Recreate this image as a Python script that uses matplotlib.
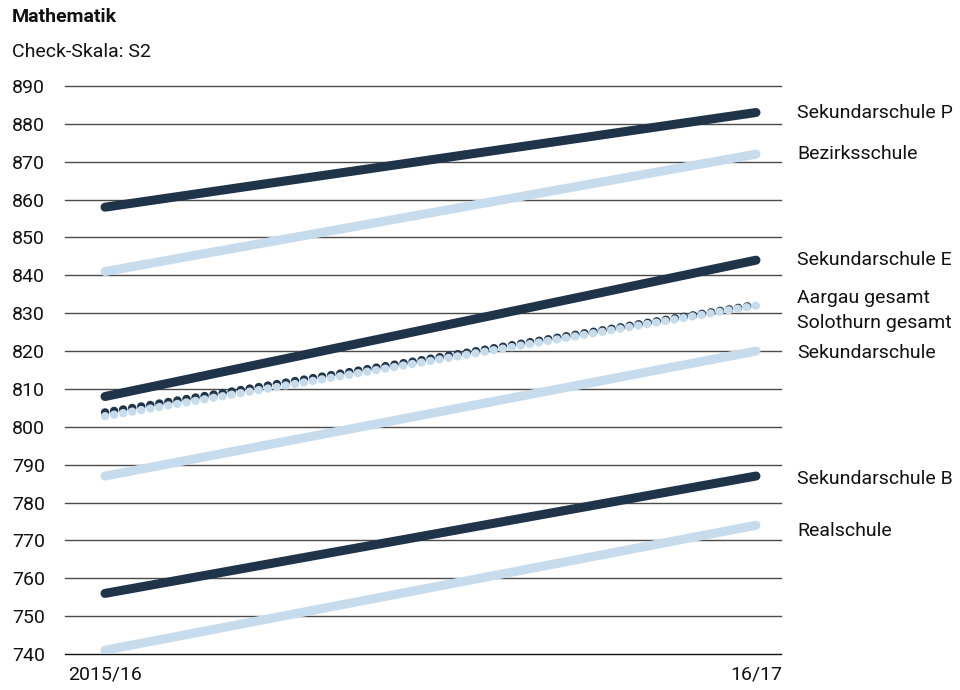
import matplotlib.pyplot as plt

plt.rcParams['font.family'] = ['Roboto', 'DejaVu Sans']

# ── Data ──
years = ["2015/16", "16/17"]
series_names = ["Sekundarschule P", "Bezirksschule", "Sekundarschule E",
                "Aargau gesamt", "Solothurn gesamt", "Sekundarschule",
                "Sekundarschule B", "Realschule"]
start_vals = [858, 841, 808, 803.8, 802.8, 787, 756, 741]
end_vals = [883, 872, 844, 832.2, 832.0, 820, 787, 774]
label_y = [883, 872, 844, 834, 827.5, 819.5, 786.2, 772.5]

DARK = "#1f3349"
LIGHT = "#c6dbeb"
colors = [DARK, LIGHT, DARK, DARK, LIGHT, LIGHT, DARK, LIGHT]
dotted = [False, False, False, True, True, False, False, False]

FS = 14

fig = plt.figure(figsize=(9.6, 6.9), dpi=100)
ax = fig.add_axes([65/960, 36/690, 716/960, 568/690])

x = [0, 1]
for name, s, e, c, d in zip(series_names, start_vals, end_vals, colors, dotted):
    if d:
        ax.plot(x, [s, e], color=c, lw=6.0, dashes=(0.02, 1.08),
                dash_capstyle='round', zorder=4 if c == LIGHT else 3)
    else:
        ax.plot(x, [s, e], color=c, lw=6.5, solid_capstyle='round', zorder=3)

for name, ly in zip(series_names, label_y):
    ax.text(1.0 + 41/651, ly, name, fontsize=FS, va='center', ha='left',
            color='#111111', clip_on=False)

ax.set_xlim(-40/651, 1 + 25/651)
ax.set_ylim(740, 890)
yt = list(range(740, 891, 10))
ax.set_yticks(yt)
for v in yt:
    ax.axhline(v, color='#111111' if v == 740 else '#4a4a4a', lw=1.0,
               zorder=1, clip_on=False)
ax.set_xticks(x)
ax.set_xticklabels(years)
ax.tick_params(axis='both', length=0, labelsize=FS, colors='#111111')
ax.tick_params(axis='x', pad=8)
ax.tick_params(axis='y', pad=53 * 0.72)
for lab in ax.get_yticklabels():
    lab.set_horizontalalignment('left')
for sp in ax.spines.values():
    sp.set_visible(False)

fig.text(12/960, 1 - 17/690, "Mathematik", fontsize=FS, fontweight='bold',
         va='center', ha='left', color='#111111')
fig.text(12/960, 1 - 52/690, "Check-Skala: S2", fontsize=FS,
         va='center', ha='left', color='#111111')

fig.savefig("out.png", dpi=100, facecolor='white')
